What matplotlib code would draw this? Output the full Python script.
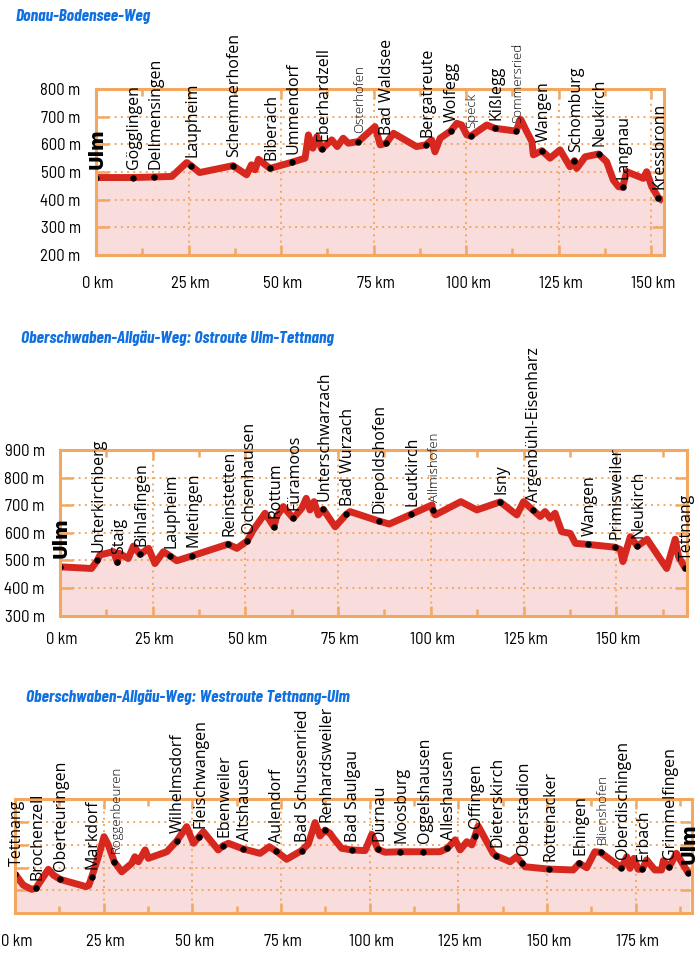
import numpy as np
import matplotlib
matplotlib.use("Agg")
import matplotlib.pyplot as plt
import matplotlib.font_manager as fm
import matplotlib.transforms as mtransforms
from matplotlib.ticker import MultipleLocator

names = {f.name for f in fm.fontManager.ttflist}
TITLE_FONT = 'Barlow Condensed' if 'Barlow Condensed' in names else 'DejaVu Sans'
TICK_FONT = 'Barlow Semi Condensed' if 'Barlow Semi Condensed' in names else 'DejaVu Sans'
LABEL_FONT = 'Open Sans' if 'Open Sans' in names else 'DejaVu Sans'

RED = '#d6281f'
FILL = '#f9dcdc'
ORANGE = '#f3a862'
BLUE = '#1170e0'

# ---- Donau-Bodensee-Weg
c1_title = 'Donau-Bodensee-Weg'
c1_names = ['Ulm', 'Gögglingen', 'Dellmensingen', 'Laupheim', 'Schemmerhofen', 'Biberach',
            'Ummendorf', 'Eberhardzell', 'Osterhofen', 'Bad Waldsee', 'Bergatreute', 'Wolfegg',
            'Speck', 'Kißlegg', 'Sommersried', 'Wangen', 'Schomburg', 'Neukirch', 'Langnau',
            'Kressbronn']
c1_km = [0, 10, 15.7, 25.7, 37, 47, 52.9, 61, 70.9, 78.4, 89.1, 95.9, 101.3, 107.8, 113.5,
         120.5, 129.3, 135.8, 142.3, 152]
c1_el = [480, 480, 482, 523, 523, 513, 535, 583, 610, 604, 598, 649, 630, 658, 648,
         577, 541, 565, 445, 407]
c1_minor = ['Osterhofen', 'Speck', 'Sommersried']
c1_shape_km = [20.5, 24.5, 28, 40.7, 42, 43, 43.9, 56.5, 57.4, 58.6, 59.7, 63.7, 65.2, 66.8,
               68.2, 75.4, 76.8, 80.4, 86.6, 90.7, 91.6, 93, 97.5, 98.8, 100.2, 105.6, 114.8,
               116.4, 117.8, 118.2, 122.7, 125.4, 128.1, 129.9, 132.2, 138, 139.8, 141.2,
               143.4, 147.9, 148.8, 150.2, 153.3]
c1_shape_el = [484, 534, 498, 490, 526, 508, 546, 550, 634, 586, 628, 616, 592, 622,
               604, 664, 598, 640, 592, 616, 573, 622, 676, 670, 634, 670, 690,
               646, 610, 562, 550, 580, 519, 513, 555, 537, 471, 447,
               501, 477, 501, 447, 395]

# ---- Ostroute Ulm-Tettnang
c2_title = 'Oberschwaben-Allgäu-Weg: Ostroute Ulm-Tettnang'
c2_names = ['Ulm', 'Unterkirchberg', 'Staig', 'Bihlafingen', 'Laupheim', 'Mietingen',
            'Reinstetten', 'Ochsenhausen', 'Rottum', 'Füramoos', 'Unterschwarzach',
            'Bad Wurzach', 'Diepoldshofen', 'Leutkirch', 'Allmishofen', 'Isny',
            'Argenbühl-Eisenharz', 'Wangen', 'Primisweiler', 'Neukirch', 'Tettnang']
c2_km = [0, 10.1, 15.5, 21.6, 29.7, 35.7, 45.3, 50.5, 57.7, 62.9, 71, 77.2, 85.9, 94.7,
         100.5, 118.7, 127.5, 142.5, 149.7, 155.7, 168.6]
c2_el = [477, 501, 493, 522, 516, 517, 559, 571, 622, 653, 685, 667, 643, 667,
         683, 712, 683, 558, 548, 552, 472]
c2_minor = ['Allmishofen']
c2_shape_km = [8.5, 10.8, 14.4, 16, 18.4, 19.8, 23.9, 25.6, 27.9, 31.5, 47.7, 52.1, 55.3,
               58.4, 60.2, 65.2, 66.4, 67.4, 68.5, 69.7, 74.2, 78.2, 88.8, 100.3, 101.2,
               108.1, 112.4, 123.2, 125, 129.5, 130.8, 132.2, 133.5, 135.3, 137.6, 139,
               151.1, 151.8, 153.8, 158.3, 163.6, 165.9, 166.8, 169]
c2_shape_el = [471, 520, 532, 526, 507, 552, 544, 489, 532, 499, 544, 610, 671,
               659, 695, 689, 725, 683, 713, 665, 622, 677, 632, 701, 665,
               713, 683, 665, 713, 659, 677, 653, 671, 604, 598, 562,
               540, 496, 586, 577, 471, 577, 514, 470]

# ---- Westroute Tettnang-Ulm
c3_title = 'Oberschwaben-Allgäu-Weg: Westroute Tettnang-Ulm'
c3_names = ['Tettnang', 'Brochenzell', 'Oberteuringen', 'Markdorf', 'Roggenbeuren',
            'Wilhelmsdorf', 'Fleischwangen', 'Ebenweiler', 'Altshausen', 'Aulendorf',
            'Bad Schussenried', 'Renhardsweiler', 'Bad Saulgau', 'Dürnau', 'Moosburg',
            'Oggelshausen', 'Alleshausen', 'Offingen', 'Dieterskirch', 'Oberstadion',
            'Rottenacker', 'Ehingen', 'Blienshofen', 'Oberdischingen', 'Erbach',
            'Grimmelfingen', 'Ulm']
c3_km = [0, 5.9, 12.7, 21.6, 28, 45.6, 51.9, 58.7, 64.4, 73.6, 80.8, 87.4, 94.9, 102.3,
         108.6, 115.1, 121.9, 129.7, 135.6, 143, 150.5, 159.1, 165.1, 171, 176.9, 184.4,
         189.8]
c3_el = [473, 410, 449, 458, 526, 617, 636, 597, 582, 573, 575, 665, 578, 581,
         570, 570, 585, 639, 553, 519, 494, 519, 567, 500, 494, 502, 478]
c3_minor = ['Roggenbeuren', 'Blienshofen']
c3_shape_km = [2.3, 4.7, 9.4, 10.8, 20, 20.8, 23.5, 25.1, 26.3, 30.1, 32.9, 33.8, 34.8,
               36.7, 37.6, 42.8, 48.4, 50.3, 53.1, 57.3, 60.2, 69.1, 71.7, 76.6, 82.7,
               84.6, 86, 88.8, 89.8, 92.1, 98.7, 100.6, 104.3, 119.8, 124.1, 125.5, 127.4,
               128.8, 130.6, 134.8, 139.6, 141.4, 143.8, 157.4, 161.2, 163.5, 170.6, 172.5,
               173.4, 174.5, 175.7, 178.1, 180.4, 182.3, 182.8, 186.5, 187.9, 190.3]
c3_shape_el = [424, 405, 493, 468, 417, 422, 548, 636, 600, 482, 519, 548, 526,
               578, 541, 570, 680, 607, 658, 578, 607, 563, 592, 537, 604,
               698, 639, 651, 629, 585, 575, 646, 568, 570, 622, 578, 614,
               600, 683, 563, 526, 548, 504, 490, 500, 570, 504, 548,
               497, 541, 493, 534, 490, 490, 531, 563, 526, 475]


def profile(ax, names_, km, el, minor, shape_km, shape_el, xlim, ylim, ylabels, xpad):
    line_km = np.concatenate([km, shape_km])
    line_el = np.concatenate([el, shape_el])
    order = np.argsort(line_km, kind='stable')
    line_km, line_el = line_km[order], line_el[order]

    ax.set_xlim(*xlim)
    ax.set_ylim(*ylim)
    ax.fill_between(line_km, line_el, ylim[0], color=FILL, lw=0, zorder=1)
    for x in np.arange(25, xlim[1], 25):
        ax.axvline(x, color=ORANGE, lw=1.4, ls=(0, (1, 2.2)), zorder=2)
    for y in np.arange(ylim[0] + 100, ylim[1], 100):
        ax.axhline(y, color=ORANGE, lw=1.4, ls=(0, (1, 2.2)), zorder=2)
    ax.plot(line_km, line_el, color=RED, lw=5, solid_joinstyle='round',
            solid_capstyle='butt', zorder=3)
    ax.plot(km, el, 'o', color='black', ms=3.6, zorder=4)

    for s in ax.spines.values():
        s.set_color(ORANGE)
        s.set_linewidth(2.2)
        s.set_zorder(5)

    for name, x, y in zip(names_, km, el):
        if name == 'Ulm':
            kw = dict(fontsize=14, fontweight='black', family=LABEL_FONT)
        elif name in minor:
            kw = dict(fontsize=9.5, fontweight='light', family=LABEL_FONT)
        else:
            kw = dict(fontsize=11.5, fontweight='medium', family=LABEL_FONT)
        ax.annotate(name, (x, y), xytext=(1, 6), textcoords='offset points',
                    rotation=90, ha='center', va='bottom', color='black',
                    annotation_clip=False, zorder=8, **kw)

    ax.xaxis.set_major_locator(MultipleLocator(25))
    ax.xaxis.set_minor_locator(MultipleLocator(12.5))
    ax.yaxis.set_major_locator(MultipleLocator(100))
    ax.tick_params(axis='x', which='major', direction='in', length=7.5, width=1.8,
                   color=ORANGE, top=True, pad=xpad)
    ax.tick_params(axis='x', which='minor', direction='in', length=5, width=1.8,
                   color=ORANGE, top=True)
    ax.tick_params(axis='y', which='major', direction='in', length=9, width=1.8,
                   color=ORANGE, right=True, pad=11)
    xt = np.arange(0, xlim[1], 25)
    ax.set_xticks(xt)
    ax.set_xticklabels([f'{int(v)} km' for v in xt], fontsize=12, family=TICK_FONT)
    shift = mtransforms.ScaledTranslation(2 / 100, 0, ax.figure.dpi_scale_trans)
    for lab in ax.get_xticklabels():
        lab.set_transform(lab.get_transform() + shift)
    yt = np.arange(ylim[0], ylim[1] + 1, 100)
    ax.set_yticks(yt)
    if ylabels:
        ax.set_yticklabels([f'{int(v)} m' for v in yt], fontsize=12, family=TICK_FONT)
    else:
        ax.set_yticklabels([])


fig = plt.figure(figsize=(7, 9.71), dpi=100)
W, H = 700, 971

ax1 = fig.add_axes([96 / W, 1 - 255 / H, 568 / W, 166 / H])
profile(ax1, c1_names, c1_km, c1_el, c1_minor, c1_shape_km, c1_shape_el,
        (0, 153.5), (200, 800), True, 15)

ax2 = fig.add_axes([60 / W, 1 - 615.7 / H, 626.7 / W, 165.7 / H])
profile(ax2, c2_names, c2_km, c2_el, c2_minor, c2_shape_km, c2_shape_el,
        (0, 169), (300, 900), True, 12)

ax3 = fig.add_axes([15 / W, 1 - 913.3 / H, 676.7 / W, 114 / H])
profile(ax3, c3_names, c3_km, c3_el, c3_minor, c3_shape_km, c3_shape_el,
        (0, 190.8), (300, 800), False, 15)

title_kw = dict(color=BLUE, fontsize=12.5, fontweight='bold', style='italic',
                family=TITLE_FONT, va='center', ha='left')
fig.text(16 / W, 1 - 17 / H, c1_title, **title_kw)
fig.text(21 / W, 1 - 338 / H, c2_title, **title_kw)
fig.text(26 / W, 1 - 697 / H, c3_title, **title_kw)

fig.savefig('out.png', dpi=100)
